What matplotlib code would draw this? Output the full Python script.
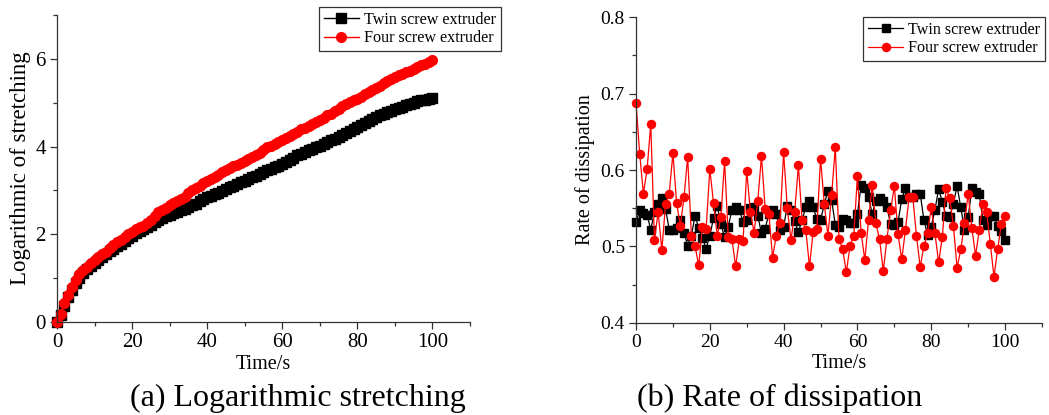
import matplotlib
matplotlib.use("Agg")
import matplotlib.pyplot as plt
from matplotlib.ticker import MultipleLocator, FormatStrFormatter

plt.rcParams['font.family'] = ['Liberation Serif', 'DejaVu Serif']

# time axis, one sample per second
time_s = list(range(0, 101))

# (a) Logarithmic stretching
log_twin = [
    0.00, 0.15, 0.37, 0.57, 0.74, 0.89, 1.01, 1.11, 1.20, 1.28,
    1.35, 1.42, 1.49, 1.55, 1.61, 1.67, 1.73, 1.79, 1.85, 1.91,
    1.97, 2.02, 2.07, 2.12, 2.17, 2.22, 2.27, 2.33, 2.38, 2.42,
    2.45, 2.48, 2.51, 2.55, 2.58, 2.62, 2.66, 2.70, 2.75, 2.80,
    2.84, 2.88, 2.92, 2.95, 2.99, 3.03, 3.07, 3.11, 3.15, 3.19,
    3.22, 3.26, 3.30, 3.34, 3.38, 3.42, 3.46, 3.49, 3.53, 3.56,
    3.60, 3.65, 3.70, 3.75, 3.80, 3.84, 3.88, 3.92, 3.95, 3.99,
    4.02, 4.06, 4.10, 4.14, 4.18, 4.22, 4.26, 4.30, 4.35, 4.40,
    4.45, 4.50, 4.54, 4.59, 4.63, 4.67, 4.71, 4.75, 4.79, 4.82,
    4.85, 4.88, 4.91, 4.94, 4.97, 5.00, 5.03, 5.05, 5.07, 5.09,
    5.10,
]
log_four = [
    0.00, 0.19, 0.43, 0.62, 0.80, 0.96, 1.09, 1.18, 1.26, 1.34,
    1.41, 1.48, 1.54, 1.60, 1.68, 1.76, 1.82, 1.88, 1.94, 2.00,
    2.06, 2.11, 2.16, 2.20, 2.25, 2.33, 2.42, 2.50, 2.56, 2.61,
    2.66, 2.71, 2.76, 2.80, 2.85, 2.93, 3.00, 3.05, 3.11, 3.16,
    3.21, 3.26, 3.31, 3.36, 3.41, 3.46, 3.51, 3.55, 3.58, 3.62,
    3.66, 3.71, 3.76, 3.81, 3.86, 3.92, 3.98, 4.02, 4.06, 4.10,
    4.15, 4.19, 4.23, 4.28, 4.34, 4.39, 4.43, 4.47, 4.51, 4.56,
    4.61, 4.66, 4.71, 4.75, 4.80, 4.86, 4.92, 4.97, 5.01, 5.05,
    5.09, 5.14, 5.19, 5.24, 5.29, 5.34, 5.39, 5.44, 5.49, 5.54,
    5.58, 5.62, 5.65, 5.69, 5.73, 5.77, 5.81, 5.85, 5.88, 5.92,
    5.97,
]

# (b) Rate of dissipation
rate_twin = [
    0.532, 0.547, 0.544, 0.541, 0.522, 0.545, 0.555, 0.563, 0.549, 0.522,
    0.521, 0.524, 0.535, 0.518, 0.501, 0.514, 0.540, 0.524, 0.511, 0.497,
    0.514, 0.537, 0.553, 0.529, 0.512, 0.526, 0.548, 0.551, 0.548, 0.532,
    0.534, 0.550, 0.552, 0.540, 0.517, 0.523, 0.543, 0.548, 0.542, 0.521,
    0.526, 0.553, 0.548, 0.533, 0.519, 0.534, 0.552, 0.559, 0.551, 0.536,
    0.534, 0.555, 0.573, 0.561, 0.528, 0.526, 0.536, 0.535, 0.531, 0.531,
    0.543, 0.580, 0.576, 0.564, 0.543, 0.559, 0.563, 0.559, 0.551, 0.529,
    0.528, 0.532, 0.562, 0.576, 0.565, 0.565, 0.569, 0.569, 0.535, 0.515,
    0.526, 0.548, 0.575, 0.558, 0.540, 0.538, 0.556, 0.579, 0.551, 0.522,
    0.538, 0.576, 0.571, 0.569, 0.534, 0.528, 0.540, 0.540, 0.527, 0.520,
    0.508,
]
rate_four = [
    0.688, 0.621, 0.569, 0.601, 0.660, 0.508, 0.545, 0.495, 0.555, 0.569,
    0.622, 0.557, 0.527, 0.564, 0.617, 0.514, 0.500, 0.475, 0.526, 0.523,
    0.601, 0.557, 0.514, 0.538, 0.612, 0.512, 0.509, 0.474, 0.509, 0.507,
    0.599, 0.545, 0.518, 0.560, 0.618, 0.549, 0.543, 0.485, 0.514, 0.530,
    0.623, 0.550, 0.508, 0.545, 0.606, 0.534, 0.522, 0.474, 0.519, 0.523,
    0.615, 0.556, 0.514, 0.567, 0.630, 0.510, 0.496, 0.466, 0.501, 0.514,
    0.592, 0.518, 0.482, 0.534, 0.580, 0.530, 0.509, 0.468, 0.510, 0.547,
    0.579, 0.516, 0.483, 0.521, 0.565, 0.565, 0.513, 0.473, 0.500, 0.517,
    0.551, 0.517, 0.479, 0.512, 0.576, 0.563, 0.527, 0.472, 0.496, 0.530,
    0.569, 0.524, 0.488, 0.521, 0.556, 0.545, 0.503, 0.460, 0.497, 0.529,
    0.540,
]

labels = ["Twin screw extruder", "Four screw extruder"]
captions = ["(a) Logarithmic stretching", "(b) Rate of dissipation"]

fig = plt.figure(figsize=(10.49, 4.15), dpi=100)
ax1 = fig.add_axes([0.0543, 0.224, 0.3937, 0.740])
ax2 = fig.add_axes([0.6063, 0.2224, 0.3870, 0.7359])


def style_axis(ax, tick_size):
    for side in ("top", "right"):
        ax.spines[side].set_visible(False)
    for side in ("left", "bottom"):
        ax.spines[side].set_color("#333333")
        ax.spines[side].set_linewidth(0.9)
    ax.tick_params(which="both", direction="out", colors="#333333",
                   labelcolor="black", labelsize=tick_size, width=0.9)
    ax.tick_params(which="major", length=5, pad=3)
    ax.tick_params(which="minor", length=3)
    ax.xaxis.set_major_locator(MultipleLocator(20))
    ax.xaxis.set_minor_locator(MultipleLocator(10))
    ax.set_xlim(0, 110)


def add_legend(ax, x0, y0):
    leg = ax.legend(loc="upper left", bbox_to_anchor=(x0, y0),
                    bbox_transform=fig.transFigure, borderaxespad=0,
                    fontsize=11.6, numpoints=1, fancybox=False,
                    framealpha=1, edgecolor="#333333", labelspacing=0.15,
                    borderpad=0.3, handlelength=2.2, handletextpad=0.3)
    leg.get_frame().set_linewidth(0.9)


# left panel
ax1.plot(time_s, log_twin, color="black", marker="s", markersize=6.5,
         linewidth=1, label=labels[0], clip_on=False)
ax1.plot(time_s, log_four, color="red", marker="o", markersize=7,
         linewidth=1, label=labels[1], clip_on=False)
style_axis(ax1, 15)
ax1.set_ylim(0, 7)
ax1.yaxis.set_major_locator(MultipleLocator(2))
ax1.yaxis.set_minor_locator(MultipleLocator(1))
ax1.set_xlabel("Time/s", fontsize=14.5, labelpad=2)
ax1.set_ylabel("Logarithmic of stretching", fontsize=16.5, labelpad=3)
add_legend(ax1, 0.304, 0.983)

# right panel
ax2.plot(time_s, rate_twin, color="black", marker="s", markersize=5.2,
         linewidth=0.9, label=labels[0], clip_on=False)
ax2.plot(time_s, rate_four, color="red", marker="o", markersize=5.8,
         linewidth=0.9, label=labels[1], clip_on=False)
style_axis(ax2, 14)
ax2.set_ylim(0.4, 0.8)
ax2.yaxis.set_major_locator(MultipleLocator(0.1))
ax2.yaxis.set_minor_locator(MultipleLocator(0.05))
ax2.yaxis.set_major_formatter(FormatStrFormatter("%.1f"))
ax2.set_xlabel("Time/s", fontsize=14.5, labelpad=2)
ax2.set_ylabel("Rate of dissipation", fontsize=14.5, labelpad=4)
add_legend(ax2, 0.8227, 0.959)

fig.text(0.2836, 0.04, captions[0], ha="center", va="center", fontsize=23)
fig.text(0.7436, 0.04, captions[1], ha="center", va="center", fontsize=23)

fig.savefig("out.png", dpi=100)
